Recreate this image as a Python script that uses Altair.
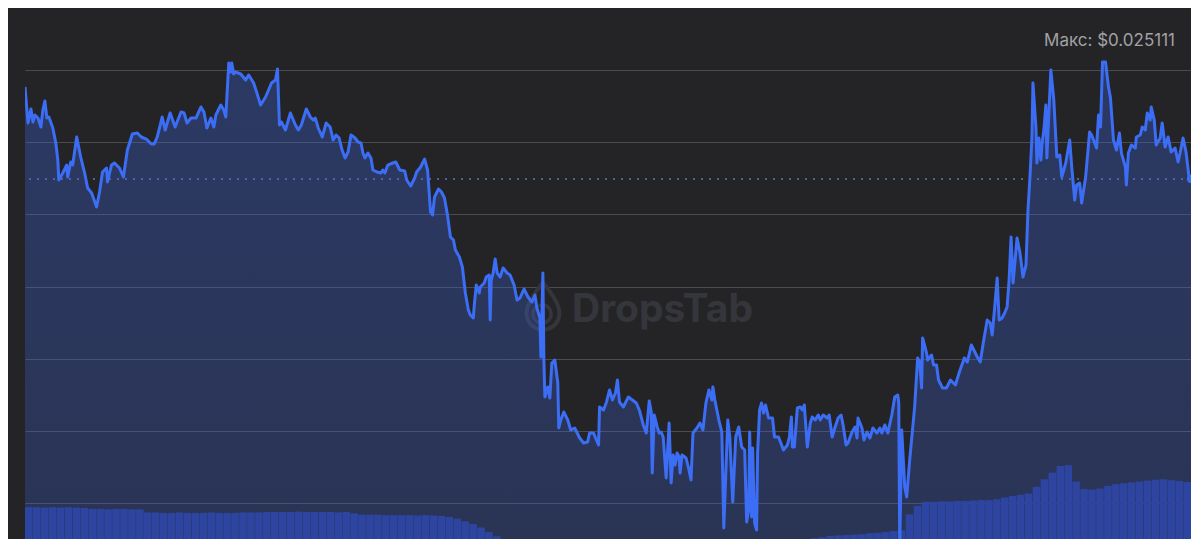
import altair as alt
import pandas as pd

# ---- price series (time step along the window, price in USD) ----
t_step = [
    0, 3, 6, 8, 10, 13, 16, 18, 20, 22,
    24, 28, 31, 33, 34, 38, 42, 43, 46, 48,
    52, 56, 60, 63, 67, 72, 75, 78, 82, 83,
    87, 90, 95, 99, 103, 108, 113, 117, 122, 127,
    130, 133, 138, 141, 146, 151, 157, 160, 163, 167,
    172, 177, 180, 183, 187, 190, 192, 197, 200, 202,
    205, 207, 208, 210, 212, 217, 222, 225, 230, 233,
    237, 242, 248, 252, 254, 256, 258, 262, 267, 272,
    275, 278, 283, 287, 290, 292, 295, 299, 303, 307,
    310, 313, 316, 319, 322, 325, 328, 332, 335, 338,
    340, 342, 345, 348, 350, 354, 358, 360, 362, 365,
    370, 373, 377, 382, 384, 388, 392, 394, 398, 402,
    405, 408, 410, 412, 416, 419, 422, 425, 428, 431,
    433, 437, 440, 443, 446, 448, 451, 452, 454, 457,
    458, 462, 464, 467, 468, 469, 471, 473, 475, 478,
    481, 485, 488, 492, 495, 498, 502, 506, 510, 513,
    515, 518, 519, 521, 522, 523, 526, 528, 530, 533,
    536, 537, 539, 542, 546, 549, 553, 558, 562, 566,
    568, 572, 574, 577, 578, 582, 585, 588, 591, 594,
    596, 598, 602, 607, 611, 615, 618, 622, 625, 628,
    630, 631, 633, 636, 638, 640, 642, 645, 648, 650,
    652, 654, 656, 658, 659, 661, 665, 668, 670, 672,
    676, 679, 682, 685, 688, 691, 692, 694, 698, 701,
    703, 707, 709, 712, 715, 718, 721, 724, 726, 728,
    729, 731, 732, 734, 736, 737, 739, 741, 743, 745,
    748, 752, 754, 758, 760, 763, 767, 769, 771, 772,
    774, 777, 780, 782, 784, 787, 790, 792, 795, 798,
    800, 803, 807, 809, 812, 815, 818, 821, 823, 826,
    828, 832, 835, 837, 838, 842, 844, 847, 850, 853,
    857, 860, 862, 865, 868, 872, 875, 878, 879, 880,
    882, 885, 887, 890, 895, 898, 900, 902, 903, 907,
    908, 912, 914, 917, 919, 923, 927, 931, 936, 940,
    945, 948, 952, 958, 961, 964, 968, 971, 973, 976,
    978, 980, 983, 986, 988, 990, 992, 994, 998, 1001,
    1004, 1007, 1009, 1011, 1013, 1014, 1017, 1018, 1020, 1022,
    1023, 1025, 1027, 1028, 1032, 1035, 1038, 1041, 1043, 1047,
    1051, 1053, 1056, 1058, 1061, 1063, 1067, 1071, 1073, 1078,
    1080, 1082, 1084, 1087, 1090, 1092, 1095, 1098, 1101, 1103,
    1107, 1108, 1110, 1113, 1117, 1118, 1122, 1124, 1127, 1129,
    1132, 1133, 1136, 1138, 1142, 1144, 1147, 1150, 1153, 1157,
    1160, 1162, 1165, 1168, 1171, 1173,
]

price_usd = [
    0.024765, 0.024266, 0.024460, 0.024280, 0.024377, 0.024335, 0.024211, 0.024446, 0.024571, 0.024335,
    0.024349, 0.024197, 0.023989, 0.023753, 0.023476, 0.023573, 0.023684, 0.023518, 0.023726, 0.023684,
    0.024072, 0.023795, 0.023573, 0.023366, 0.023296, 0.023103, 0.023310, 0.023587, 0.023643, 0.023449,
    0.023684, 0.023712, 0.023643, 0.023518, 0.023892, 0.024114, 0.024127, 0.024072, 0.024044, 0.023975,
    0.023975, 0.024072, 0.024349, 0.024169, 0.024404, 0.024211, 0.024418, 0.024404, 0.024266, 0.024335,
    0.024335, 0.024488, 0.024418, 0.024197, 0.024335, 0.024211, 0.024377, 0.024515, 0.024446, 0.024349,
    0.025097, 0.024972, 0.025097, 0.024945, 0.024972, 0.024945, 0.024861, 0.024931, 0.024820, 0.024695,
    0.024515, 0.024626, 0.024820, 0.024861, 0.025014, 0.024238, 0.024280, 0.024169, 0.024404, 0.024238,
    0.024169, 0.024238, 0.024460, 0.024349, 0.024307, 0.024335, 0.024197, 0.024072, 0.024266, 0.024211,
    0.024030, 0.024100, 0.024058, 0.023892, 0.023781, 0.023864, 0.024100, 0.024058, 0.024003, 0.023989,
    0.023850, 0.023781, 0.023850, 0.023781, 0.023615, 0.023587, 0.023573, 0.023615, 0.023573, 0.023684,
    0.023712, 0.023726, 0.023615, 0.023601, 0.023476, 0.023393, 0.023504, 0.023587, 0.023657, 0.023767,
    0.023615, 0.023033, 0.022992, 0.023241, 0.023352, 0.023310, 0.023227, 0.022992, 0.022687, 0.022645,
    0.022507, 0.022410, 0.022272, 0.021911, 0.021676, 0.021607, 0.021565, 0.021745, 0.022022, 0.021911,
    0.021995, 0.022050, 0.022133, 0.022161, 0.021537, 0.022091, 0.022188, 0.022382, 0.022188, 0.022133,
    0.022258, 0.022188, 0.022161, 0.022022, 0.021814, 0.021842, 0.021967, 0.021856, 0.021787, 0.021884,
    0.021704, 0.021565, 0.021025, 0.022188, 0.020983, 0.020471, 0.020610, 0.020457, 0.020942, 0.020983,
    0.020665, 0.020042, 0.020152, 0.020263, 0.020152, 0.020014, 0.020042, 0.019903, 0.019834, 0.019848,
    0.019972, 0.019972, 0.019903, 0.019806, 0.020333, 0.020291, 0.020402, 0.020568, 0.020429, 0.020526,
    0.020706, 0.020402, 0.020333, 0.020471, 0.020429, 0.020388, 0.020291, 0.020083, 0.019972, 0.020416,
    0.020263, 0.019418, 0.020222, 0.020056, 0.019972, 0.019986, 0.019917, 0.019349, 0.020111, 0.019280,
    0.019668, 0.019529, 0.019695, 0.019640, 0.019418, 0.019668, 0.019626, 0.019460, 0.019321, 0.019972,
    0.020042, 0.020111, 0.020014, 0.020388, 0.020568, 0.020429, 0.020610, 0.020429, 0.020152, 0.019986,
    0.018657, 0.020152, 0.019917, 0.019017, 0.019917, 0.020056, 0.019779, 0.019737, 0.018740, 0.018906,
    0.019986, 0.018809, 0.019765, 0.018726, 0.018629, 0.019695, 0.020291, 0.020388, 0.020249, 0.020360,
    0.020180, 0.020180, 0.019917, 0.019917, 0.019848, 0.019737, 0.019806, 0.019917, 0.020194, 0.019779,
    0.019779, 0.020319, 0.020333, 0.020291, 0.020360, 0.019779, 0.020111, 0.020194, 0.020152, 0.020222,
    0.020152, 0.020222, 0.020180, 0.020222, 0.019917, 0.020056, 0.020180, 0.020222, 0.020083, 0.019806,
    0.019834, 0.019986, 0.020056, 0.019903, 0.020180, 0.020042, 0.019875, 0.019986, 0.019903, 0.020042,
    0.019972, 0.020042, 0.019972, 0.020083, 0.019972, 0.020222, 0.020471, 0.020499, 0.020388, 0.018380,
    0.020014, 0.019225, 0.019086, 0.019598, 0.020333, 0.021011, 0.020956, 0.020596, 0.021288, 0.021080,
    0.020983, 0.021053, 0.020914, 0.020914, 0.020706, 0.020596, 0.020596, 0.020706, 0.020637, 0.020817,
    0.021011, 0.020956, 0.021191, 0.021025, 0.020956, 0.021219, 0.021537, 0.021496, 0.021330, 0.021787,
    0.022119, 0.021537, 0.021565, 0.021648, 0.021718, 0.022091, 0.022687, 0.022050, 0.022673, 0.022465,
    0.022133, 0.022299, 0.023061, 0.023518, 0.024072, 0.024820, 0.024211, 0.023712, 0.024058, 0.023753,
    0.023961, 0.024169, 0.024515, 0.023781, 0.025000, 0.024584, 0.023795, 0.023823, 0.023518, 0.023712,
    0.024030, 0.023657, 0.023199, 0.023407, 0.023435, 0.023158, 0.023518, 0.024141, 0.024100, 0.023920,
    0.024377, 0.024211, 0.025111, 0.025111, 0.024765, 0.024612, 0.024030, 0.023892, 0.024127, 0.023850,
    0.023657, 0.023407, 0.023850, 0.023961, 0.023920, 0.024072, 0.024100, 0.024211, 0.024169, 0.024404,
    0.024307, 0.024488, 0.024307, 0.023961, 0.024058, 0.024266, 0.023934, 0.024072, 0.023864, 0.023920,
    0.023726, 0.023850, 0.024058, 0.023864, 0.023518, 0.023490,
]

# ---- trading volume bars (thousand USD), one per period ----
volume_k_usd = [
    72, 72, 71, 72, 71, 72, 71, 70,
    68, 68, 67, 68, 68, 67, 67,
    60, 60, 59, 59, 60, 59, 59, 59, 60, 59, 59, 59, 60, 60, 60, 61, 61,
    61, 61, 62, 61, 61, 61, 61, 60, 61, 58, 55, 55, 55,
    54, 54, 54, 54, 53, 54, 53, 52,
    50, 46, 40, 34, 26, 16, 6,
    0, 0, 0, 0, 0, 0, 0, 0, 0, 0, 0, 0, 0, 0, 0, 0, 0, 0, 0, 0,
    0, 0, 0, 0, 0, 0, 0, 0, 0, 0, 0, 0, 0, 0, 0, 0, 0, 0, 0, 2, 4,
    7, 8, 9, 10, 11, 13, 14, 16, 18, 20,
    56, 75, 84, 84, 85, 85, 86, 86, 87, 88, 88, 90,
    94, 97, 100, 103, 118, 135, 150, 165, 167, 130,
    113, 112, 114, 120, 124, 126, 128, 130, 132, 134, 135, 133, 131, 129,
]

grid_prices = [0.019, 0.020, 0.021, 0.022, 0.023, 0.024, 0.025]
x_domain = [0, 1173]
y_domain = [0.018504, 0.025859]
volume_domain = [0, 1200]

BG = "#242426"
LINE = "#3b6ef5"

line_df = pd.DataFrame({"t": t_step, "price": price_usd})
last_df = line_df.tail(1)
vol_df = pd.DataFrame({"bar": list(range(len(volume_k_usd))), "volume": volume_k_usd})
label_df = pd.DataFrame({"label": [f"Макс: ${max(price_usd):.6f}"]})
wm_df = pd.DataFrame({"label": ["DropsTab"]})

xs = alt.Scale(domain=x_domain, nice=False, zero=False)
ys = alt.Scale(domain=y_domain, nice=False, zero=False)

watermark_icon = alt.Chart(wm_df).mark_point(
    shape="M0,-1 C0.45,-0.45 0.7,-0.05 0.7,0.3 C0.7,0.72 0.38,1 0,1 C-0.38,1 -0.7,0.72 -0.7,0.3 C-0.7,-0.05 -0.45,-0.45 0,-1 Z",
    filled=False, stroke="#34363c", strokeWidth=4, size=2200, opacity=1,
).encode(x=alt.value(518), y=alt.value(298))

watermark_ring = alt.Chart(wm_df).mark_point(
    shape="circle", filled=False, stroke="#34363c", strokeWidth=3.5, size=330, opacity=1,
).encode(x=alt.value(517), y=alt.value(306))

watermark_text = alt.Chart(wm_df).mark_text(
    align="left", baseline="alphabetic", font="Inter", fontWeight="bold",
    fontSize=39, color="#34363c",
).encode(x=alt.value(547), y=alt.value(314), text="label:N")

area = alt.Chart(line_df).mark_area(
    clip=True,
    color=alt.Gradient(
        gradient="linear", x1=0, x2=0, y1=0, y2=1,
        stops=[
            alt.GradientStop(color="rgba(61,105,240,0.30)", offset=0),
            alt.GradientStop(color="rgba(61,105,240,0.04)", offset=1),
        ],
    ),
).encode(
    x=alt.X("t:Q", scale=xs, axis=None),
    y=alt.Y("price:Q", scale=ys, axis=alt.Axis(
        values=grid_prices, grid=True, gridColor="#4a4a4f", gridWidth=1,
        labels=False, ticks=False, domain=False, title=None)),
    y2=alt.value("height"),
)

bars = alt.Chart(vol_df).mark_bar(color="#2d45a0", opacity=1).encode(
    x=alt.X("bar:O", axis=None, scale=alt.Scale(paddingInner=0.05, paddingOuter=0)),
    y=alt.Y("volume:Q", axis=None, scale=alt.Scale(domain=volume_domain, nice=False)),
)

current_rule = alt.Chart(last_df).mark_rule(
    color="#5a73c8", strokeDash=[2, 6], strokeWidth=1.5,
).encode(y=alt.Y("price:Q", scale=ys, axis=None))

line = alt.Chart(line_df).mark_line(
    clip=True, color=LINE, strokeWidth=3, strokeJoin="round",
).encode(
    x=alt.X("t:Q", scale=xs, axis=None),
    y=alt.Y("price:Q", scale=ys, axis=None),
)

dot = alt.Chart(last_df).mark_circle(size=70, color=LINE, opacity=1).encode(
    x=alt.X("t:Q", scale=xs, axis=None),
    y=alt.Y("price:Q", scale=ys, axis=None),
)

max_label = alt.Chart(label_df).mark_text(
    align="right", baseline="alphabetic", font="Inter", fontSize=17, color="#a1a1a6",
).encode(x=alt.value(1150), y=alt.value(38), text="label:N")

chart = alt.layer(
    watermark_icon, watermark_ring, watermark_text,
    area, bars, current_rule, line, dot, max_label,
).resolve_scale(
    x="independent", y="independent"
).properties(
    width=1166, height=531,
    padding={"left": 17, "top": 0, "right": 0, "bottom": 0},
    autosize=alt.AutoSizeParams(type="none"),
    background=BG,
).configure_view(stroke=None)

chart.save("out.html", embed_options={"renderer": "svg", "actions": False})
